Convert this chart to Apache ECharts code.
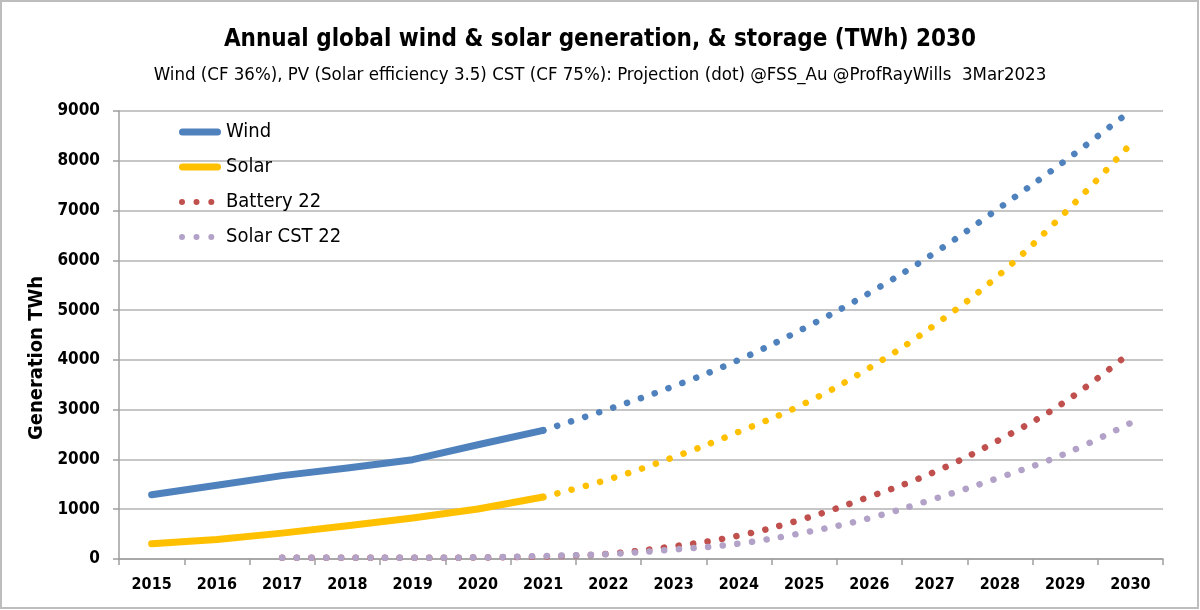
<!DOCTYPE html>
<html>
<head>
<meta charset="utf-8">
<title>Annual global wind & solar generation</title>
<script src="https://cdn.jsdelivr.net/npm/echarts@6/dist/echarts.min.js"></script>
<style>
  html, body { margin: 0; padding: 0; background: #fff; }
  #chart { width: 1200px; height: 610px; }
</style>
</head>
<body>
<div id="chart"></div>
<script>
// years on the category axis
const years = ['2015', '2016', '2017', '2018', '2019', '2020', '2021', '2022',
  '2023', '2024', '2025', '2026', '2027', '2028', '2029', '2030'];
const yTicks = [0, 1000, 2000, 3000, 4000, 5000, 6000, 7000, 8000, 9000];

// actuals (solid)
const windActual = [1290, 1480, 1675, 1830, 1995, 2295, 2585];
const solarActual = [305, 390, 520, 670, 825, 1005, 1245];

// projections (dots), from 2021
const windProjection = [2585, 3010, 3470, 4000, 4635, 5345, 6150, 7060, 8000, 9000];
const solarProjection = [1245, 1600, 2045, 2555, 3120, 3840, 4700, 5720, 6960, 8330];

// storage series, from 2017
const battery22 = [25, 25, 25, 30, 50, 105, 255, 470, 810, 1250, 1750, 2400, 3160, 4150];
const solarCst22 = [25, 25, 25, 30, 60, 100, 190, 310, 530, 820, 1210, 1640, 2115, 2730];

// pad a series with nulls so it starts at the given year
function fromYear(year, values) {
  const pad = years.indexOf(year);
  return new Array(pad).fill(null).concat(values);
}

const font = "'Liberation Sans Narrow', 'DejaVu Sans Condensed', sans-serif";
const dots = [0.1, 14.6];

// legend icons: thick round line / three dots (42 x 6..7 box)
const lineIcon = 'path://M3.5,0 L38.5,0 A3.5,3.5 0 0 1 38.5,7 L3.5,7 A3.5,3.5 0 0 1 3.5,0 Z';
const dotIcon = 'path://M0,3 Z M3,0 A3,3 0 1 1 3,6 A3,3 0 1 1 3,0 Z M17.5,0 A3,3 0 1 1 17.5,6 A3,3 0 1 1 17.5,0 Z '
  + 'M32.3,0 A3,3 0 1 1 32.3,6 A3,3 0 1 1 32.3,0 Z M42,3 Z';

const myChart = echarts.init(document.getElementById('chart'));
var option = {
  animation: false,
  textStyle: { fontFamily: font },
  title: [
    {
      text: 'Annual global wind & solar generation, & storage (TWh) 2030',
      left: 'center',
      top: 23,
      textStyle: { fontFamily: font, fontSize: 24, fontWeight: 'bold', color: '#000' }
    },
    {
      text: 'Wind (CF 36%), PV (Solar efficiency 3.5) CST (CF 75%): Projection (dot) @FSS_Au @ProfRayWills  3Mar2023',
      left: 'center',
      top: 61,
      textStyle: { fontFamily: font, fontSize: 18.5, fontWeight: 'normal', color: '#000' }
    }
  ],
  graphic: [
    {
      type: 'rect',
      silent: true,
      shape: { x: 1, y: 1, width: 1197, height: 607 },
      style: { fill: 'none', stroke: '#bdbdbd', lineWidth: 2 }
    }
  ],
  legend: {
    orient: 'vertical',
    left: 179,
    top: 122,
    padding: 0,
    itemWidth: 42,
    itemHeight: 14,
    itemGap: 15,
    data: [
      { name: 'Wind', icon: lineIcon },
      { name: 'Solar', icon: lineIcon },
      { name: 'Battery 22', icon: dotIcon },
      { name: 'Solar CST 22', icon: dotIcon }
    ],
    textStyle: { fontFamily: font, fontSize: 20, color: '#000', lineHeight: 20 }
  },
  grid: {
    left: 119,
    right: 37,
    top: 111,
    bottom: 51
  },
  xAxis: {
    type: 'category',
    data: years,
    boundaryGap: true,
    axisLine: { lineStyle: { color: '#9e9e9e', width: 1.5 } },
    axisTick: { show: true, interval: 0, length: 6, lineStyle: { color: '#9e9e9e', width: 1.5 } },
    axisLabel: {
      interval: 0,
      margin: 18,
      fontFamily: font,
      fontSize: 16,
      fontWeight: 'bold',
      color: '#000'
    }
  },
  yAxis: {
    type: 'value',
    min: yTicks[0],
    max: yTicks[yTicks.length - 1],
    interval: 1000,
    name: 'Generation TWh',
    nameLocation: 'middle',
    nameGap: 70,
    nameTextStyle: {
      fontFamily: font,
      fontSize: 20,
      fontWeight: 'bold',
      color: '#000',
      padding: [0, 46, 0, 0]
    },
    axisLine: { show: true, lineStyle: { color: '#9e9e9e', width: 1.5 } },
    axisTick: { show: true, length: 6, lineStyle: { color: '#9e9e9e', width: 1.5 } },
    axisLabel: {
      margin: 19,
      fontFamily: font,
      fontSize: 17,
      fontWeight: 'bold',
      color: '#000',
      formatter: (v) => String(v)
    },
    splitLine: { lineStyle: { color: '#b3b3b3', width: 1.5 } }
  },
  series: [
    {
      name: 'Wind',
      type: 'line',
      data: windActual,
      symbol: 'none',
      color: '#4f81bd',
      lineStyle: { width: 7, cap: 'round', join: 'round' }
    },
    {
      name: 'Solar',
      type: 'line',
      data: solarActual,
      symbol: 'none',
      color: '#ffc000',
      lineStyle: { width: 7, cap: 'round', join: 'round' }
    },
    {
      name: 'Battery 22',
      type: 'line',
      data: fromYear('2017', battery22),
      symbol: 'none',
      smooth: 0.4,
      color: '#c0504d',
      lineStyle: { width: 6.5, type: dots, cap: 'round' }
    },
    {
      name: 'Solar CST 22',
      type: 'line',
      data: fromYear('2017', solarCst22),
      symbol: 'none',
      smooth: 0.4,
      color: '#b3a2c7',
      lineStyle: { width: 6.5, type: dots, cap: 'round' }
    },
    {
      name: 'Wind projection',
      type: 'line',
      data: fromYear('2021', windProjection),
      symbol: 'none',
      smooth: 0.4,
      color: '#4f81bd',
      lineStyle: { width: 6.5, type: dots, cap: 'round' }
    },
    {
      name: 'Solar projection',
      type: 'line',
      data: fromYear('2021', solarProjection),
      symbol: 'none',
      smooth: 0.4,
      color: '#ffc000',
      lineStyle: { width: 6.5, type: dots, cap: 'round' }
    }
  ]
};
option && myChart.setOption(option);
</script>
</body>
</html>
